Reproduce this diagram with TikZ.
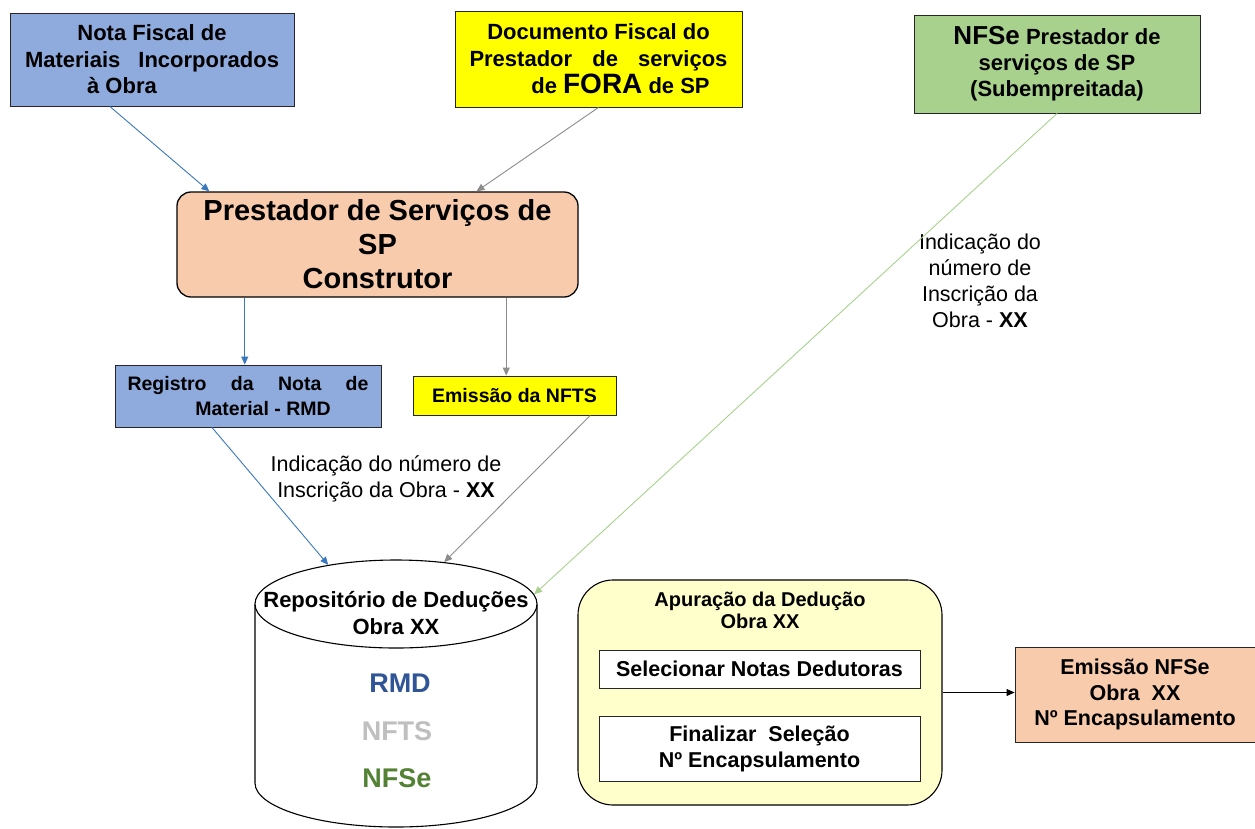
\documentclass[tikz,border=0pt]{standalone}
\usepackage{fontspec}
\setmainfont{Liberation Sans}
\usetikzlibrary{arrows.meta,calc,shapes.geometric}
\definecolor{nblue}{HTML}{8FAADC}
\definecolor{nyellow}{HTML}{FFFF00}
\definecolor{ngreen}{HTML}{A9D18E}
\definecolor{npeach}{HTML}{F8CBAD}
\definecolor{npale}{HTML}{FFFFCC}
\definecolor{lblue}{HTML}{3A78BE}
\definecolor{lgray}{HTML}{8C8C8C}
\definecolor{lgreen}{HTML}{A9D18E}
\definecolor{rmdc}{HTML}{2F5597}
\definecolor{nftsc}{HTML}{BFBFBF}
\definecolor{nfsec}{HTML}{548235}
\newcommand{\myfs}[2]{\fontsize{#1}{#2}\selectfont}
\begin{document}
\begin{tikzpicture}[x=1pt,y=-1pt,
  box/.style={draw=black!85, line width=0.9pt, inner sep=0pt, align=center},
  arr/.style={-{Triangle[length=8pt,width=7pt]}, line width=0.9pt},
  lbl/.style={inner sep=0pt, align=center, font=\myfs{21.5}{26}}]
\useasboundingbox (0,0) rectangle (1255,828);

% top boxes
\node[box, fill=nblue, minimum width=284pt, minimum height=93pt, font=\bfseries\myfs{22}{26.5}] (nota) at (152,59.5)
  {Nota Fiscal de\\\makebox[254pt]{Materiais\hfill Incorporados}\\à Obra\hspace*{60pt}};
\node[box, fill=nyellow, minimum width=287pt, minimum height=96pt, font=\bfseries\myfs{22}{27}] (doc) at (598.5,59)
  {Documento Fiscal do\\\makebox[258pt]{Prestador\hfill de\hfill serviços}\\\hspace*{44pt}de {\myfs{28}{27}FORA} de SP};
\node[box, fill=ngreen, minimum width=286pt, minimum height=98pt, font=\bfseries\myfs{22}{26}] (nfse) at (1057,64)
  {{\myfs{26}{26}NFSe} Prestador de\\serviços de SP\\(Subempreitada)};

% central box
\node[box, draw=black, line width=1.3pt, fill=npeach, rounded corners=14pt, minimum width=401pt, minimum height=105pt, font=\bfseries\myfs{29}{34}] (prest) at (377.5,244.5)
  {Prestador de Serviços de\\SP\\Construtor};

% second row
\node[box, fill=nblue, minimum width=266pt, minimum height=62pt, font=\bfseries\myfs{19.5}{25}] (reg) at (248,396)
  {\makebox[241pt]{Registro\hfill da\hfill Nota\hfill de}\\\hspace*{30pt}Material - RMD};
\node[box, fill=nyellow, minimum width=203pt, minimum height=39pt, font=\bfseries\myfs{19.5}{24}] (nfts) at (514.5,395.5)
  {Emissão da NFTS};

% labels
\node[lbl] (lab1) at (386,479) {Indicação do número de\\Inscrição da Obra - \textbf{XX}};
\node[lbl] (lab2) at (980,281) {Indicação do\\número de\\Inscrição da\\Obra - \textbf{XX}};

% cylinder
\path[draw=black, line width=1.1pt, fill=white] (255,604) -- (255,783)
  arc[start angle=180, end angle=360, x radius=141pt, y radius=44pt] -- (537,604);
\node[ellipse, draw=black, line width=1.1pt, fill=white, minimum width=282pt, minimum height=88pt, inner sep=0pt] (cyltop) at (396,604) {};
\node[inner sep=0pt, align=center, font=\bfseries\myfs{22}{27}] (repo) at (396,613.5) {Repositório de Deduções\\Obra XX};
\node[inner sep=0pt, font=\bfseries\myfs{27}{27}, text=rmdc] (rmd) at (400,683) {RMD};
\node[inner sep=0pt, font=\bfseries\myfs{27}{27}, text=nftsc] (nftsl) at (397,731) {NFTS};
\node[inner sep=0pt, font=\bfseries\myfs{27}{27}, text=nfsec] (nfsel) at (397,778) {NFSe};

% apuracao
\node[draw=black, line width=1.1pt, fill=npale, rounded corners=35pt, minimum width=364pt, minimum height=225pt] (apur) at (760,692.5) {};
\node[inner sep=0pt, align=center, font=\bfseries\myfs{20}{21.5}] (aputit) at (760,610.5) {Apuração da Dedução\\Obra XX};
\node[box, fill=white, minimum width=321pt, minimum height=38pt, font=\bfseries\myfs{21.5}{26}] (sel) at (759.5,669) {Selecionar Notas Dedutoras};
\node[box, fill=white, minimum width=321pt, minimum height=65pt, font=\bfseries\myfs{21.5}{26}] (fin) at (759.5,748.5) {Finalizar\ \ Seleção\\Nº Encapsulamento};

\node[box, fill=npeach, minimum width=240pt, minimum height=95pt, font=\bfseries\myfs{21.5}{25.5}] (emi) at (1135,694.5)
  {Emissão NFSe\\Obra\ \ XX\\Nº Encapsulamento};

% connectors
\draw[arr, lblue] ($(nota.south west)!0.352!(nota.south east)$) -- ($(prest.north west)!0.082!(prest.north east)$);
\draw[arr, lgray] (doc.south) -- ($(prest.north west)!0.746!(prest.north east)$);
\draw[arr, lgreen] (nfse.south) -- (cyltop.4);
\coordinate (pb1) at ($(prest.south west)!0.17!(prest.south east)$);
\coordinate (pb2) at ($(prest.south west)!0.82!(prest.south east)$);
\draw[arr, lblue] (pb1) -- (pb1 |- reg.north);
\draw[arr, lgray] (pb2) -- (pb2 |- nfts.north);
\draw[arr, lblue] ($(reg.south west)!0.365!(reg.south east)$) -- (cyltop.150);
\draw[arr, lgray] ($(nfts.south west)!0.872!(nfts.south east)$) -- (cyltop.41);
\draw[arr, black] (apur.east) -- (apur.east -| emi.west);
\end{tikzpicture}
\end{document}
